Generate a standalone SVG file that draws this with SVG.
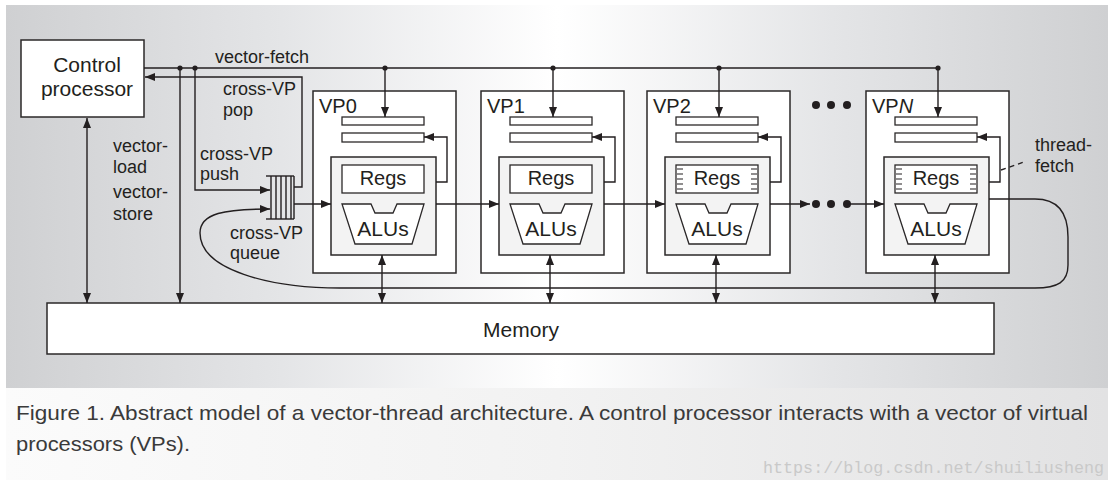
<svg xmlns="http://www.w3.org/2000/svg" width="1117" height="489" viewBox="0 0 1117 489">
<defs>
<linearGradient id="panel" x1="0" y1="0" x2="1" y2="0">
<stop offset="0" stop-color="#cfd0d2"/>
<stop offset="0.25" stop-color="#e4e5e7"/>
<stop offset="0.5" stop-color="#ffffff"/>
<stop offset="0.75" stop-color="#e4e5e7"/>
<stop offset="1" stop-color="#cfd0d2"/>
</linearGradient>
<linearGradient id="cap" x1="0" y1="0" x2="1" y2="0">
<stop offset="0" stop-color="#fbfbfb"/>
<stop offset="0.5" stop-color="#f2f2f2"/>
<stop offset="1" stop-color="#e2e2e3"/>
</linearGradient>
<marker id="ah" viewBox="0 0 10 8" refX="10" refY="4" markerWidth="10" markerHeight="8" markerUnits="userSpaceOnUse" orient="auto-start-reverse">
<path d="M0,0 L10,4 L0,8 z" fill="#231f20"/>
</marker>
<style>
.t{font-family:"Liberation Sans",Arial,sans-serif;fill:#231f20}
.lbl{font-size:18px}
.big{font-size:20px}
.box{fill:#fff;stroke:#2b2829;stroke-width:1.5}
.inner{fill:#f3f3f3;stroke:#2b2829;stroke-width:1.5}
.bar{fill:#fff;stroke:#2b2829;stroke-width:1.3}
.ln{fill:none;stroke:#231f20;stroke-width:1.4}
.arr{marker-end:url(#ah)}
.arr2{marker-start:url(#ah);marker-end:url(#ah)}
.dot{fill:#231f20}
.stripe{stroke:#231f20;stroke-width:1.1}
.cap{font-family:"Liberation Sans",Arial,sans-serif;fill:#3a3a3a;font-size:21px}
</style>
</defs>

<rect x="6" y="5" width="1102" height="383" fill="url(#panel)"/>
<rect x="6" y="388" width="1102" height="92" fill="url(#cap)"/>

<g id="control-processor">
<rect class="box" x="21" y="40" width="123" height="77" stroke-width="1.6"/>
<text class="t" x="87" y="72" font-size="21" text-anchor="middle">Control</text>
<text class="t" x="87" y="96" font-size="21" text-anchor="middle">processor</text>
</g>

<g id="memory">
<rect class="box" x="47" y="303" width="947" height="51" stroke="#555" stroke-width="2"/>
<text class="t" x="521" y="337" font-size="21" text-anchor="middle">Memory</text>
</g>

<g id="queue">
<line class="ln" x1="266" y1="176" x2="294" y2="176"/>
<line class="ln" x1="266" y1="219" x2="294" y2="219"/>
<line class="ln" x1="271" y1="176" x2="271" y2="219" stroke-width="1.8"/>
<line class="ln" x1="276" y1="176" x2="276" y2="219" stroke-width="1.8"/>
<line class="ln" x1="281" y1="176" x2="281" y2="219" stroke-width="1.8"/>
<line class="ln" x1="286" y1="176" x2="286" y2="219" stroke-width="1.8"/>
<line class="ln" x1="291" y1="176" x2="291" y2="219" stroke-width="1.8"/>
<line class="ln" x1="294" y1="176" x2="294" y2="219" stroke="#777" stroke-width="1"/>
</g>

<g id="vp0">
<rect class="box" x="313" y="91" width="143" height="182"/>
<text class="t big" x="319" y="113">VP0</text>
<rect class="bar" x="342" y="117" width="82" height="8"/>
<rect class="bar" x="342" y="133" width="82" height="9"/>
<rect class="inner" x="331" y="157" width="105" height="98"/>
<rect class="bar" x="342" y="165" width="82" height="28"/>
<text class="t big" x="383" y="185" text-anchor="middle">Regs</text>
<path class="bar" d="M342,204 H371 L375,213 H393 L397,204 H424 L412,244 H355 Z"/>
<text class="t" x="383" y="236" font-size="21" text-anchor="middle">ALUs</text>
</g>

<g id="vp1" transform="translate(168,0)">
<rect class="box" x="313" y="91" width="143" height="182"/>
<text class="t big" x="319" y="113">VP1</text>
<rect class="bar" x="342" y="117" width="82" height="8"/>
<rect class="bar" x="342" y="133" width="82" height="9"/>
<rect class="inner" x="331" y="157" width="105" height="98"/>
<rect class="bar" x="342" y="165" width="82" height="28"/>
<text class="t big" x="383" y="185" text-anchor="middle">Regs</text>
<path class="bar" d="M342,204 H371 L375,213 H393 L397,204 H424 L412,244 H355 Z"/>
<text class="t" x="383" y="236" font-size="21" text-anchor="middle">ALUs</text>
</g>

<g id="vp2" transform="translate(334,0)">
<rect class="box" x="313" y="91" width="143" height="182"/>
<text class="t big" x="319" y="113">VP2</text>
<rect class="bar" x="342" y="117" width="82" height="8"/>
<rect class="bar" x="342" y="133" width="82" height="9"/>
<rect class="inner" x="331" y="157" width="105" height="98"/>
<rect class="bar" x="342" y="165" width="82" height="28"/>
<path class="stripe" d="M343,169h6M343,174h6M343,179h6M343,184h6M343,189h6M417,169h6M417,174h6M417,179h6M417,184h6M417,189h6"/>
<text class="t big" x="383" y="185" text-anchor="middle">Regs</text>
<path class="bar" d="M342,204 H371 L375,213 H393 L397,204 H424 L412,244 H355 Z"/>
<text class="t" x="383" y="236" font-size="21" text-anchor="middle">ALUs</text>
</g>

<g id="ellipsis">
<circle class="dot" cx="816" cy="105" r="4"/>
<circle class="dot" cx="831" cy="105" r="4"/>
<circle class="dot" cx="847" cy="105" r="4"/>
<circle class="dot" cx="816" cy="204" r="4"/>
<circle class="dot" cx="831" cy="204" r="4"/>
<circle class="dot" cx="847" cy="204" r="4"/>
</g>

<g id="vpn" transform="translate(553,0)">
<rect class="box" x="313" y="91" width="143" height="182"/>
<text class="t big" x="319" y="113">VP<tspan font-style="italic">N</tspan></text>
<rect class="bar" x="342" y="117" width="82" height="8"/>
<rect class="bar" x="342" y="133" width="82" height="9"/>
<rect class="inner" x="331" y="157" width="105" height="98"/>
<rect class="bar" x="342" y="165" width="82" height="28"/>
<path class="stripe" d="M343,169h6M343,174h6M343,179h6M343,184h6M343,189h6M417,169h6M417,174h6M417,179h6M417,184h6M417,189h6"/>
<text class="t big" x="383" y="185" text-anchor="middle">Regs</text>
<path class="bar" d="M342,204 H371 L375,213 H393 L397,204 H424 L412,244 H355 Z"/>
<text class="t" x="383" y="236" font-size="21" text-anchor="middle">ALUs</text>
</g>

<g id="connectors">
<path class="ln" d="M144,68 H938"/>
<circle class="dot" cx="180" cy="68" r="2.6"/>
<circle class="dot" cx="195" cy="68" r="2.6"/>
<path class="ln arr" d="M294,187 H302 V77 H145"/>
<path class="ln arr" d="M195,68 V190 H270"/>
<path class="ln arr" d="M180,68 V303"/>
<path class="ln arr2" d="M87,118 V303"/>
<path class="ln arr" d="M294,204 H331"/>
<path class="ln arr" d="M436,204 H499"/>
<path class="ln arr" d="M604,204 H665"/>
<path class="ln arr" d="M770,204 H810"/>
<path class="ln arr" d="M847,204 H884"/>
<path class="ln arr" d="M989,199 H1035 C1060,199 1068,215 1068,237 V265 C1068,282 1058,288 1035,288 H340 C270,288 200,270 200,233 C200,213 225,209 270,209"/>
<g id="c-vp0">
<circle class="dot" cx="385" cy="68" r="2.6"/>
<path class="ln arr" d="M385,68 V117"/>
<path class="ln arr" d="M436,182 H447 V137 H424"/>
<path class="ln arr2" d="M382,255 V303"/>
</g>
<g id="c-vp1" transform="translate(168,0)">
<circle class="dot" cx="385" cy="68" r="2.6"/>
<path class="ln arr" d="M385,68 V117"/>
<path class="ln arr" d="M436,182 H447 V137 H424"/>
<path class="ln arr2" d="M382,255 V303"/>
</g>
<g id="c-vp2" transform="translate(334,0)">
<circle class="dot" cx="385" cy="68" r="2.6"/>
<path class="ln arr" d="M385,68 V117"/>
<path class="ln arr" d="M436,182 H447 V137 H424"/>
<path class="ln arr2" d="M382,255 V303"/>
</g>
<g id="c-vpn" transform="translate(553,0)">
<circle class="dot" cx="385" cy="68" r="2.6"/>
<path class="ln arr" d="M385,68 V117"/>
<path class="ln arr" d="M436,182 H447 V137 H424"/>
<path class="ln arr2" d="M382,255 V303"/>
</g>
<path class="ln" d="M1001,170 L1024,162" stroke-dasharray="5,4"/>
</g>

<g id="labels">
<text class="t lbl" x="215" y="63">vector-fetch</text>
<text class="t lbl" x="223" y="95">cross-VP</text>
<text class="t lbl" x="223" y="116">pop</text>
<text class="t lbl" x="200" y="160">cross-VP</text>
<text class="t lbl" x="200" y="180">push</text>
<text class="t lbl" x="113" y="152">vector-</text>
<text class="t lbl" x="113" y="173">load</text>
<text class="t lbl" x="113" y="198">vector-</text>
<text class="t lbl" x="113" y="220">store</text>
<text class="t lbl" x="230" y="239">cross-VP</text>
<text class="t lbl" x="230" y="259">queue</text>
<text class="t lbl" x="1035" y="151">thread-</text>
<text class="t lbl" x="1035" y="172">fetch</text>
</g>

<g id="caption">
<text class="cap" x="16" y="420" textLength="1072" lengthAdjust="spacingAndGlyphs">Figure 1. Abstract model of a vector-thread architecture. A control processor interacts with a vector of virtual</text>
<text class="cap" x="16" y="451" textLength="174" lengthAdjust="spacingAndGlyphs">processors (VPs).</text>
<text x="763" y="473" font-family="'Liberation Mono',monospace" font-size="17" fill="#c9c9c9" textLength="341" lengthAdjust="spacingAndGlyphs">https://blog.csdn.net/shuiliusheng</text>
</g>
</svg>
